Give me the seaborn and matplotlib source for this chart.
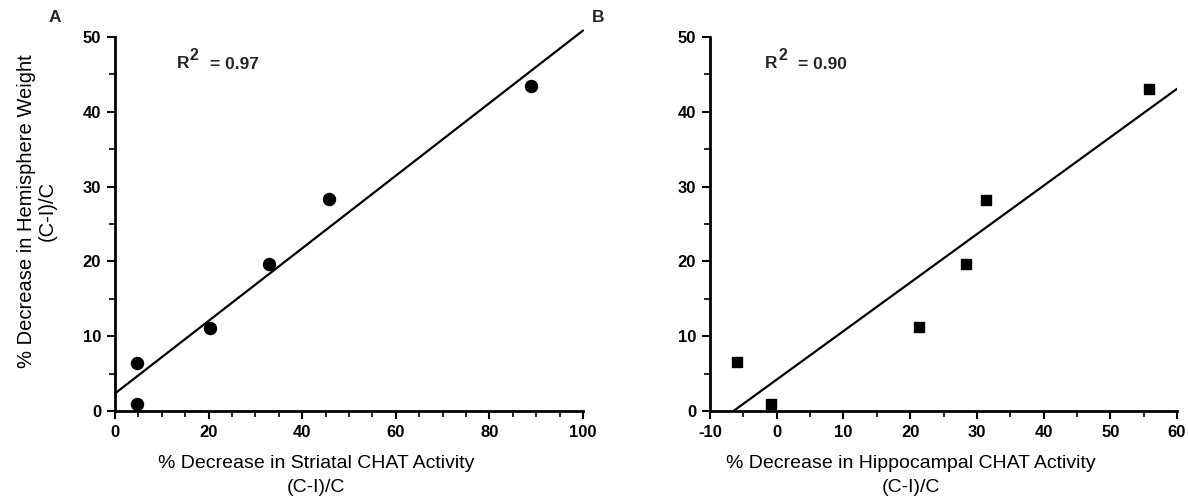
import matplotlib
matplotlib.use("Agg")
import matplotlib.pyplot as plt
import seaborn as sns
import numpy as np
import pandas as pd
from matplotlib.ticker import MultipleLocator

# Panel A data
a_x = [4.8, 4.8, 20.2, 32.9, 45.7, 88.9]
a_y = [6.4, 1.0, 11.1, 19.6, 28.3, 43.4]
# Panel B data
b_x = [-5.9, -0.8, 21.4, 28.3, 31.3, 55.8]
b_y = [6.5, 1.0, 11.2, 19.6, 28.2, 43.0]

a_xticks = [0, 20, 40, 60, 80, 100]
b_xticks = [-10, 0, 10, 20, 30, 40, 50, 60]
yticks = [0, 10, 20, 30, 40, 50]

sns.set_theme(style="ticks")
plt.rcParams['font.family'] = ['Liberation Sans', 'DejaVu Sans']
plt.rcParams['axes.unicode_minus'] = False

W, H = 1188, 498
fig = plt.figure(figsize=(W/100, H/100), dpi=100)
axA = fig.add_axes([115/W, 1-411/H, (583-115)/W, (411-37)/H])
axB = fig.add_axes([710/W, 1-411/H, (1177-710)/W, (411-37)/H])

def style(ax, xlim, xticks, xminor):
    ax.set_xlim(xlim)
    ax.set_ylim(0, 50)
    ax.set_xticks(xticks)
    ax.set_yticks(yticks)
    ax.xaxis.set_minor_locator(MultipleLocator(xminor))
    ax.yaxis.set_minor_locator(MultipleLocator(5))
    for s in ['top', 'right']:
        ax.spines[s].set_visible(False)
    for s in ['left', 'bottom']:
        ax.spines[s].set_linewidth(2.0)
        ax.spines[s].set_color('black')
    ax.tick_params(which='major', length=6, width=1.5, color='black',
                   labelsize=12, labelcolor='black', pad=4)
    ax.tick_params(which='minor', length=4, width=1.2, color='black')
    ax.set_facecolor('white')

style(axA, (0, 100), a_xticks, 5)
style(axB, (-10, 60), b_xticks, 5)

dfA = pd.DataFrame({'x': a_x, 'y': a_y})
dfB = pd.DataFrame({'x': b_x, 'y': b_y})

sns.regplot(data=dfA, x='x', y='y', ax=axA, ci=None, truncate=False,
            marker='o', scatter_kws={'s': 75, 'color': 'black', 'alpha': 1,
                                     'edgecolors': 'black', 'zorder': 3, 'clip_on': False},
            line_kws={'color': 'black', 'lw': 1.6, 'clip_on': False})
sns.regplot(data=dfB, x='x', y='y', ax=axB, ci=None, truncate=False,
            marker='s', scatter_kws={'s': 62, 'color': 'black', 'alpha': 1,
                                     'edgecolors': 'black', 'zorder': 3, 'clip_on': False},
            line_kws={'color': 'black', 'lw': 1.6})
axA.set_xlim(0, 100)
axB.set_xlim(-10, 60)
axA.set_ylim(0, 50)
axB.set_ylim(0, 50)

for ax in (axA, axB):
    for lab in ax.get_xticklabels() + ax.get_yticklabels():
        lab.set_fontweight('bold')

axA.set_xlabel("% Decrease in Striatal CHAT Activity\n(C-I)/C", fontsize=14,
               color='black', linespacing=1.55)
axB.set_xlabel("% Decrease in Hippocampal CHAT Activity\n(C-I)/C", fontsize=14,
               color='black', linespacing=1.55)
axA.xaxis.set_label_coords(0.43, -0.118)
axB.xaxis.set_label_coords(0.43, -0.118)
axA.set_ylabel("% Decrease in Hemisphere Weight\n(C-I)/C", fontsize=14.5,
               color='black', linespacing=1.15)
axA.yaxis.set_label_coords(-0.124, 0.535)
axB.set_ylabel("")

def r2(ax, x, y, val):
    ax.text(x, y, "R", fontsize=12.5, fontweight='bold', ha='left', va='center')
    ax.annotate("2", (x, y), xytext=(13, 8), textcoords='offset pixels',
                fontsize=11.5, fontweight='bold', ha='left', va='center')
    ax.annotate("= " + val, (x, y), xytext=(33, -1), textcoords='offset pixels',
                fontsize=12.5, fontweight='bold', ha='left', va='center')

r2(axA, 13.2, 46.5, "0.97")
r2(axB, -1.75, 46.5, "0.90")

fig.text(55/W, 1-18/H, "A", fontsize=12.5, fontweight='bold', ha='center', va='center')
fig.text(598/W, 1-18/H, "B", fontsize=12.5, fontweight='bold', ha='center', va='center')

fig.savefig("out.png", dpi=100, facecolor='white')
